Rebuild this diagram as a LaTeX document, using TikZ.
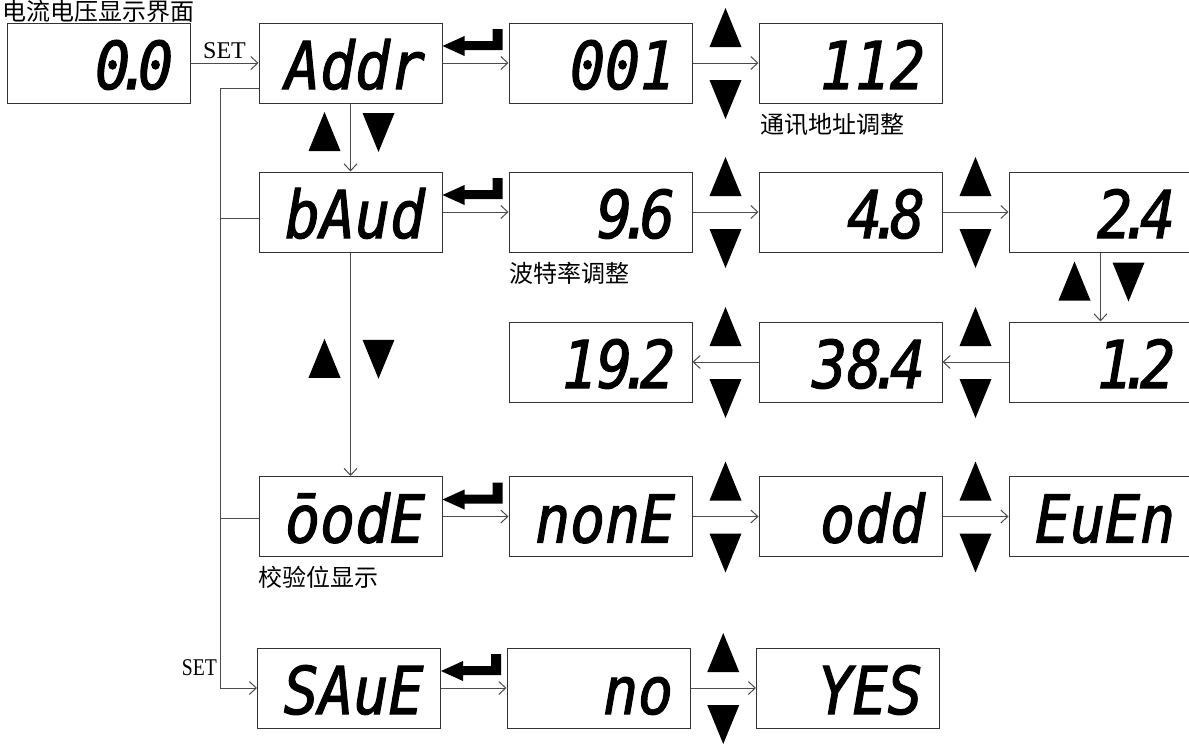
\documentclass[tikz,border=0pt]{standalone}
\usepackage{fontspec}
\setmainfont{Liberation Serif}
\newfontfamily\segfont[FakeStretch=0.88,FakeBold=1.6]{DejaVu Sans Mono Oblique}
\newfontfamily\cjkfont{Noto Sans CJK SC}
\usetikzlibrary{arrows.meta,calc}
\newcommand\segdot{\kern-13pt.\kern-14pt}
\newcommand\hupdn[2]{%
  \pic at ($(#1.east)!0.5!(#2.west)+(0,-35.5)$) {uptri};
  \pic at ($(#1.east)!0.5!(#2.west)+(0,36.5)$) {dntri};}
\newcommand\hupdnrev[2]{%
  \pic at ($(#1.west)!0.5!(#2.east)+(0,-35.5)$) {uptri};
  \pic at ($(#1.west)!0.5!(#2.east)+(0,36.5)$) {dntri};}
\newcommand\vupdn[2]{%
  \pic at ($(#1.south)!0.5!(#2.north)+(-26,-6)$) {uptri};
  \pic at ($(#1.south)!0.5!(#2.north)+(28,-5)$) {dntri};}
\begin{document}
\begin{tikzpicture}[x=1pt,y=-1pt,
  lcd/.style={draw=black!80, line width=1pt, minimum width=183pt, minimum height=80pt,
    inner xsep=17pt, inner ysep=0pt, text width=149pt, align=right,
    text height=52pt, text depth=0pt,
    font=\segfont\fontsize{66}{66}\selectfont},
  conn/.style={draw=black!70, line width=1pt, -{Straight Barb[length=7pt,width=13pt]}},
  bus/.style={draw=black!70, line width=1pt},
  cjk/.style={font=\cjkfont\fontsize{24}{24}\selectfont, anchor=north west, inner sep=0pt},
  setlbl/.style={font=\fontsize{24}{24}\selectfont, inner sep=0pt},
  uptri/.pic={\fill[black] (-16,19.5) -- (16,19.5) -- (0,-19.5) -- cycle;},
  dntri/.pic={\fill[black] (-16,-19.5) -- (16,-19.5) -- (0,19.5) -- cycle;},
  enterkey/.pic={\fill[black] (0,0) -- (22,-10) -- (22,-5) -- (50,-5) -- (50,-17) -- (60,-17) -- (60,4) -- (22,4) -- (22,10) -- cycle;},
]
\useasboundingbox (0,0) rectangle (1189,744);

% boxes
\node[lcd] (n00)  at (98.5,63)   {0\segdot0};
\node[lcd] (addr) at (350.5,63)  {Addr};
\node[lcd] (a001) at (600.5,63)  {001};
\node[lcd] (a112) at (850.5,63)  {112};

\node[lcd] (baud) at (350.5,212) {bAud};
\node[lcd] (b96)  at (600.5,212) {9\segdot6};
\node[lcd] (b48)  at (850.5,212) {4\segdot8};
\node[lcd] (b24)  at (1100.5,212) {2\segdot4};

\node[lcd] (b12)  at (1100.5,362) {1\segdot2};
\node[lcd] (b384) at (850.5,362) {38\segdot4};
\node[lcd] (b192) at (600.5,362) {19\segdot2};

\node[lcd] (mode) at (350.5,516.5) {ōodE};
\node[lcd] (none) at (600.5,516.5) {nonE};
\node[lcd] (odd)  at (850.5,516.5) {odd};
\node[lcd] (even) at (1100.5,516.5) {EuEn};

\node[lcd] (save) at (349,688) {SAuE};
\node[lcd] (no)   at (598.5,688) {no};
\node[lcd] (yes)  at (848,688) {YES};

% labels
\node[cjk] (title)   at (2,0.5)   {电流电压显示界面};
\node[cjk] (lbladdr) at (760,113) {通讯地址调整};
\node[cjk] (lblbaud) at (509,262) {波特率调整};
\node[cjk] (lblmode) at (258,566) {校验位显示};

% connectors
\draw[conn] (n00) -- node[setlbl, above=4pt] (settop) {SET} (addr);
\draw[conn] (addr) -- (a001);
\draw[conn] (a001) -- (a112);
\draw[conn] (addr) -- (baud);
\draw[conn] (baud) -- (b96);
\draw[conn] (b96) -- (b48);
\draw[conn] (b48) -- (b24);
\draw[conn] (b24) -- (b12);
\draw[conn] (b12) -- (b384);
\draw[conn] (b384) -- (b192);
\draw[conn] (baud) -- (mode);
\draw[conn] (mode) -- (none);
\draw[conn] (none) -- (odd);
\draw[conn] (odd) -- (even);
\draw[conn] (save) -- (no);
\draw[conn] (no) -- (yes);

% left bus
\coordinate (bustop) at (220,88);
\coordinate (busbot) at (220,688);
\coordinate (brb) at (220,218);
\coordinate (brm) at (220,518);
\draw[conn] (bustop -| addr.west) -- (bustop) -- (busbot) -- (busbot -| save.west);
\draw[bus] (brb) -- (brb -| baud.west);
\draw[bus] (brm) -- (brm -| mode.west);
\node[setlbl, anchor=base east] (setbot) at (217,675) {\scalebox{0.82}[1]{SET}};

% enter keys
\pic at ($(addr.east)+(0,-17)$) {enterkey};
\pic at ($(baud.east)+(0,-17)$) {enterkey};
\pic at ($(mode.east)+(0,-17)$) {enterkey};
\pic at ($(save.east)+(0,-17)$) {enterkey};

% up/down keys
\hupdn{a001}{a112}
\hupdn{b96}{b48}
\hupdn{b48}{b24}
\hupdnrev{b12}{b384}
\hupdnrev{b384}{b192}
\hupdn{none}{odd}
\hupdn{odd}{even}
\hupdn{no}{yes}
\vupdn{addr}{baud}
\vupdn{baud}{mode}
\vupdn{b24}{b12}
\end{tikzpicture}
\end{document}
